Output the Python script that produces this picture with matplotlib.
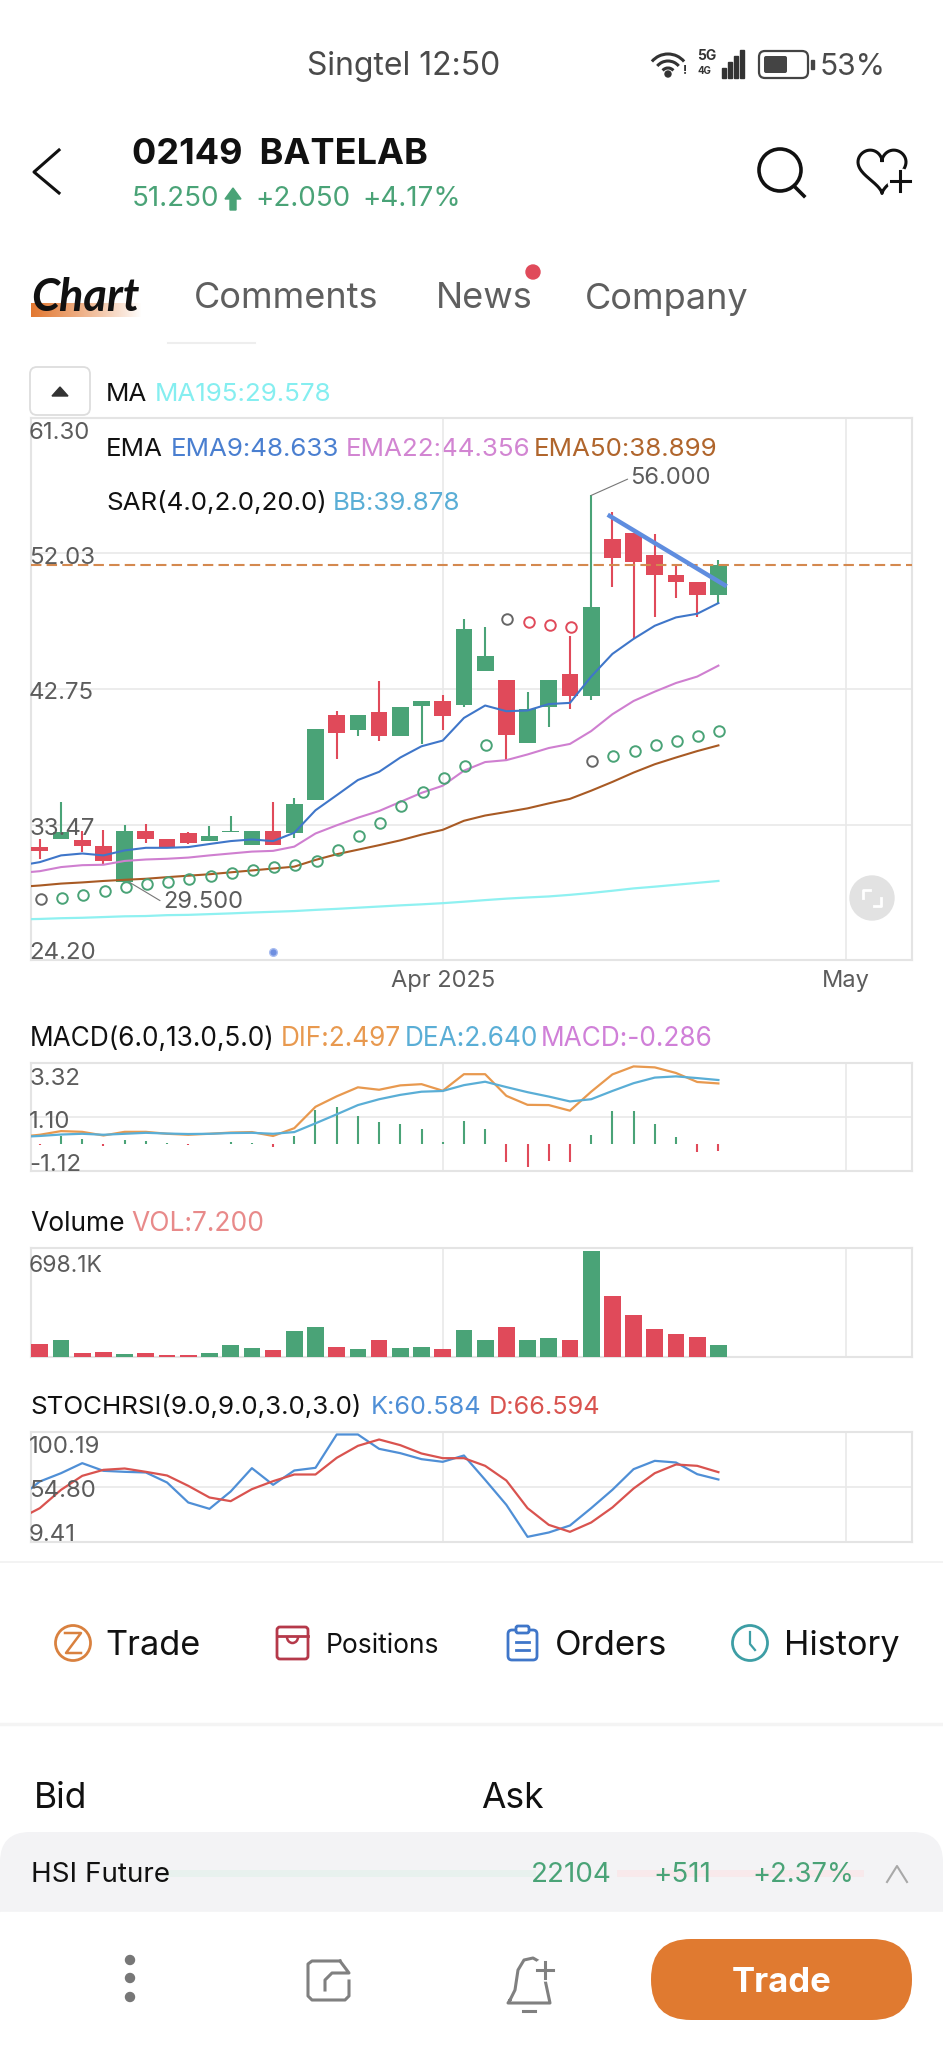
import numpy as np
import matplotlib
matplotlib.use('Agg')
import matplotlib.pyplot as plt
from matplotlib.patches import Circle, FancyBboxPatch, Rectangle, Polygon, Arc

plt.rcParams['font.family'] = ['Inter', 'DejaVu Sans']

W, H = 943, 2048
GREEN = '#4aa377'
RED = '#e04a5a'
GRID = '#e9e9e9'

# candles
opens = [31.93, 32.50, 32.39, 31.98, 29.56, 33.01, 32.50, 32.86, 32.34, 32.99, 32.06, 33.01, 32.91, 35.15, 40.97, 39.97, 41.18,
         39.56, 41.62, 41.93, 41.67, 44.01, 43.37, 39.07, 41.51, 43.81, 42.24, 53.00, 53.44, 51.90, 50.53, 50.04, 49.19]
closes = [31.65, 32.99, 32.03, 31.00, 33.01, 32.45, 31.88, 32.19, 32.68, 33.06, 33.01, 32.08, 34.89, 39.99, 39.71, 40.97, 39.53,
          41.51, 41.93, 40.87, 46.87, 45.02, 39.63, 41.41, 43.34, 42.26, 48.37, 51.72, 51.41, 50.58, 50.07, 49.19, 51.25]
highs = [32.47, 35.02, 33.04, 33.09, 33.42, 33.48, 32.50, 32.96, 33.35, 34.04, 33.01, 35.02, 35.30, 39.99, 41.26, 40.97, 43.27,
         41.51, 41.93, 42.31, 47.52, 47.00, 43.37, 42.57, 43.34, 46.36, 56.00, 54.86, 53.44, 53.39, 51.28, 50.04, 51.59]
lows = [31.11, 32.50, 31.62, 30.74, 29.50, 32.19, 31.88, 32.14, 32.34, 32.99, 32.06, 32.06, 32.52, 35.15, 37.98, 39.50, 39.22,
        39.56, 39.01, 39.94, 41.54, 44.01, 37.88, 39.07, 40.17, 41.41, 42.00, 49.73, 46.18, 47.67, 49.01, 47.65, 48.55]

# moving averages, first value sits left of the first candle
ema9 = [30.65, 30.90, 31.36, 31.49, 31.36, 31.70, 31.88, 31.88, 31.93, 32.14, 32.34, 32.45, 32.34, 32.91, 34.45, 35.48, 36.52, 37.08,
        38.06, 38.83, 39.22, 40.77, 41.62, 41.23, 41.28, 41.72, 41.80, 43.60, 45.15, 46.18, 47.08, 47.65, 47.90, 48.63]
ema22 = [30.15, 30.28, 30.56, 30.69, 30.72, 30.98, 31.08, 31.13, 31.21, 31.36, 31.49, 31.62, 31.67, 31.96, 32.86, 33.42, 33.94, 34.40,
         35.02, 35.64, 36.13, 37.16, 37.75, 37.88, 38.27, 38.71, 38.99, 39.87, 41.02, 41.93, 42.57, 43.16, 43.60, 44.35]
ema50 = [29.20, 29.30, 29.43, 29.51, 29.61, 29.69, 29.76, 29.87, 29.97, 30.07, 30.20, 30.33, 30.46, 30.59, 31.05, 31.44, 31.75, 32.06,
         32.39, 32.78, 33.11, 33.73, 34.09, 34.33, 34.58, 34.92, 35.23, 35.79, 36.39, 37.03, 37.60, 38.06, 38.50, 38.89]
ma195 = [26.98, 27.01, 27.06, 27.09, 27.14, 27.19, 27.21, 27.27, 27.29, 27.34, 27.39, 27.45, 27.50, 27.55, 27.63, 27.70, 27.78, 27.86,
         27.94, 28.01, 28.09, 28.19, 28.30, 28.40, 28.48, 28.55, 28.66, 28.79, 28.94, 29.10, 29.22, 29.35, 29.48, 29.61]

sar = [28.35, 28.43, 28.68, 28.94, 29.20, 29.43, 29.56, 29.76, 29.95, 30.18, 30.38, 30.56, 30.72, 31.00, 31.72, 32.68, 33.55,
       34.71, 35.72, 36.67, 37.47, 38.89, 47.52, 47.34, 47.16, 46.98, 37.80, 38.19, 38.53, 38.89, 39.22, 39.56, 39.89]
sar_colors = ['#666666'] + [GREEN] * 21 + ['#666666', RED, RED, RED, '#666666'] + [GREEN] * 6

# macd, lines have the extra left value as well
dif = [0.28, 0.37, 0.52, 0.49, 0.34, 0.49, 0.49, 0.41, 0.37, 0.41, 0.46, 0.48, 0.32, 0.64, 1.52, 1.95, 2.32, 2.22,
       2.40, 2.45, 2.18, 2.86, 2.86, 1.97, 1.60, 1.59, 1.36, 2.14, 2.85, 3.18, 3.14, 2.91, 2.54, 2.48]
dea = [0.28, 0.32, 0.38, 0.41, 0.37, 0.41, 0.45, 0.42, 0.40, 0.41, 0.44, 0.45, 0.41, 0.48, 0.84, 1.21, 1.59, 1.83,
       2.01, 2.14, 2.17, 2.41, 2.55, 2.33, 2.12, 1.94, 1.74, 1.83, 2.17, 2.49, 2.72, 2.77, 2.70, 2.62]
macd_hist = [-0.04, 0.31, 0.19, -0.11, 0.16, 0.11, 0.03, -0.07, 0.0, 0.07, 0.05, -0.15, 0.30, 1.37, 1.50, 1.15, 0.91,
             0.80, 0.61, 0.09, 0.92, 0.61, -0.76, -0.97, -0.69, -0.76, 0.38, 1.34, 1.34, 0.83, 0.27, -0.34, -0.28]

# volume in thousands
volume = [84, 110, 26, 31, 18, 24, 9, 9, 24, 77, 55, 46, 170, 194, 62, 48, 110, 53, 62, 48, 172, 106, 194, 108, 123, 108,
          698, 401, 273, 183, 150, 130, 77]
vol_colors = [RED, GREEN, RED, RED, GREEN, RED, RED, RED, GREEN, GREEN, GREEN, RED, GREEN, GREEN, RED, GREEN, RED, GREEN, GREEN,
              RED, GREEN, GREEN, RED, GREEN, GREEN, RED, GREEN, RED, RED, RED, RED, RED, GREEN]

stoch_k = [45.17, 58.93, 65.80, 74.06, 67.73, 66.91, 66.36, 58.10, 41.60, 36.37, 50.68, 69.93, 56.18, 68.01, 70.21, 97.72, 97.72, 85.89,
           82.31, 77.36, 75.16, 80.39, 60.30, 39.67, 13.26, 16.84, 22.61, 36.92, 52.05, 69.11, 75.98, 74.61, 64.98, 60.58]
stoch_d = [27.84, 36.92, 52.05, 63.60, 68.55, 69.66, 66.91, 63.88, 55.35, 45.72, 42.70, 52.60, 59.20, 64.70, 64.70, 78.46, 88.36, 93.59,
           88.91, 82.04, 78.18, 78.18, 71.86, 59.75, 36.92, 23.16, 17.39, 25.09, 37.47, 53.15, 65.80, 72.96, 71.86, 66.63]

month_ticks = [19, 38]
month_labels = ['Apr 2025', 'May']

idx = np.arange(len(closes))
idx_line = np.arange(-1, len(closes))
XLIM = (-0.44, 41.13)

fig = plt.figure(figsize=(W / 100, H / 100), dpi=100, facecolor='white')

# background axis in pixel coordinates for the app chrome
ui = fig.add_axes([0, 0, 1, 1], zorder=0)
ui.set_xlim(0, W)
ui.set_ylim(H, 0)
ui.axis('off')


def label(x, y, s, size=18.7, color='#111111', **kw):
    kw.setdefault('va', 'center')
    return ui.text(x, y + 2.5, s, fontsize=size, color=color, zorder=6, **kw)


def panel(top, bottom, yticks, ylabels, vas, ylim, shift=-3, tick_size=17.3):
    ax = fig.add_axes([30.5 / W, 1 - bottom / H, (912 - 30.5) / W, (bottom - top) / H], zorder=2)
    ax.patch.set_alpha(0)
    ax.set_xlim(*XLIM)
    ax.set_ylim(*ylim)
    ax.set_xticks(month_ticks)
    ax.set_xticklabels([])
    ax.set_yticks(yticks)
    ax.set_yticklabels([])
    ax.tick_params(axis='both', length=0, labelsize=17, labelcolor='#5c5c5c')
    # labels sit inside the plot area
    for v, s, va in zip(yticks, ylabels, vas):
        ax.annotate(s, xy=(0, v), xycoords=('axes fraction', 'data'), xytext=(-1, shift), textcoords='offset points',
                    fontsize=tick_size, color='#5c5c5c', va=va, ha='left', zorder=7)
    ax.grid(True, color=GRID, lw=1.2, zorder=0)
    ax.set_axisbelow(True)
    for s in ax.spines.values():
        s.set_color('#e4e4e4')
        s.set_linewidth(1.5)
    return ax


# main price panel
ax = panel(418, 960, [24.20, 33.47, 42.75, 52.03, 61.30], ['24.20', '33.47', '42.75', '52.03', '61.30'],
           ['bottom', 'center', 'center', 'center', 'top'], (24.20, 61.30))
ax.set_xticklabels(month_labels)
ax.tick_params(axis='x', pad=7)

candle_colors = [GREEN if c > o else RED for o, c in zip(opens, closes)]
ax.vlines(idx, lows, highs, colors=candle_colors, lw=1.5, zorder=3)
ax.bar(idx, np.array(closes) - np.array(opens), bottom=opens, width=0.79, color=candle_colors, zorder=3)
ax.axhline(51.25, color='#d4894f', lw=1.5, ls=(0, (5, 2.5)), zorder=4)
ax.plot(idx_line, ma195, color='#8ff1f1', lw=1.6, zorder=4)
ax.plot(idx_line, ema50, color='#a85a24', lw=1.5, zorder=4)
ax.plot(idx_line, ema22, color='#cf7fd0', lw=1.5, zorder=4)
ax.plot(idx_line, ema9, color='#3f76c9', lw=1.5, zorder=4)
for i, v, c in zip(idx, sar, sar_colors):
    ax.plot(i + 0.05, v, 'o', mfc='none', mec=c, ms=7.6, mew=1.4, zorder=5)

# hand drawn trend line and the small marker
ax.plot([26.78, 32.39], [54.68, 49.78], color='#5f8ddf', lw=3.2, solid_capstyle='butt', zorder=6)
ax.plot([11], [24.74], 'o', color='#6f8fe0', mec='#a9bdf0', ms=5.5, mew=1, zorder=5)
ax.annotate('56.000', xy=(26, 56.0), xytext=(27.85, 57.2), fontsize=17, color='#5c5c5c', va='center',
            arrowprops=dict(arrowstyle='-', color='#777777', lw=0.8, shrinkA=0, shrinkB=0, relpos=(0, 0.5)), zorder=6)
ax.annotate('29.500', xy=(4.25, 29.5), xytext=(5.8, 28.15), fontsize=17, color='#5c5c5c', va='center',
            arrowprops=dict(arrowstyle='-', color='#777777', lw=0.8, shrinkA=0, shrinkB=0, relpos=(0, 0.5)), zorder=6)

# macd panel
ax2 = panel(1063, 1171, [-1.12, 1.10, 3.32], ['-1.12', '1.10', '3.32'], ['bottom', 'center', 'top'], (-1.12, 3.32), shift=-3.5)
hist_colors = [GREEN if v >= 0 else RED for v in macd_hist]
ax2.vlines(idx, 0, macd_hist, colors=hist_colors, lw=1.5, zorder=3)
ax2.plot(idx_line, dif, color='#e8994f', lw=1.6, zorder=4)
ax2.plot(idx_line, dea, color='#5aaed6', lw=1.6, zorder=4)

# volume panel
ax3 = panel(1247.5, 1356.5, [698.1], ['698.1K'], ['top'], (0, 720), shift=-3, tick_size=16.5)
ax3.bar(idx, volume, width=0.79, color=vol_colors, zorder=3)
ax3.grid(False, axis='y')

# stochastic rsi panel
ax4 = panel(1431.5, 1541.5, [9.41, 54.80, 100.19], ['9.41', '54.80', '100.19'], ['bottom', 'center', 'top'], (9.41, 100.19), shift=-3)
ax4.plot(idx_line, stoch_k, color='#4f8fd6', lw=1.6, zorder=4)
ax4.plot(idx_line, stoch_d, color='#d9534f', lw=1.6, zorder=4)

# indicator legends
label(106, 392, 'MA')
label(155, 392, 'MA195:29.578', color='#85eef0')
label(106, 447, 'EMA')
label(171, 447, 'EMA9:48.633', color='#4a7fd0')
label(346, 447, 'EMA22:44.356', color='#d285d2')
label(534, 447, 'EMA50:38.899', color='#b0652c')
label(106, 501, 'SAR(4.0,2.0,20.0)')
label(333, 501, 'BB:39.878', color='#5aaed6')

label(30, 1036.5, 'MACD(6.0,13.0,5.0)', size=18.9)
label(281, 1036.5, 'DIF:2.497', size=18.9, color='#e8994f')
label(405, 1036.5, 'DEA:2.640', size=18.9, color='#5aaed6')
label(541, 1036.5, 'MACD:-0.286', size=18.9, color='#d080d8')
label(30, 1221.5, 'Volume', size=19)
label(131, 1221.5, 'VOL:7.200', size=19, color='#e88a8a')
label(30, 1405, 'STOCHRSI(9.0,9.0,3.0,3.0)')
label(371, 1405, 'K:60.584', size=18.2, color='#4f8fd6')
label(489, 1405, 'D:66.594', size=18.2, color='#d9534f')

# collapse button
ui.add_patch(FancyBboxPatch((30, 367), 60, 48, boxstyle='round,pad=0,rounding_size=7', fc='white', ec='#dddddd', lw=1.3))
ui.add_patch(Polygon([[52, 396], [68, 396], [60, 387]], color='#333333'))

# fullscreen button
ui.add_patch(Circle((872, 898), 22, color='#e2e2e2', zorder=5))
ui.plot([863, 863, 870], [898, 890, 890], color='white', lw=2, zorder=6)
ui.plot([881, 881, 874], [898, 906, 906], color='white', lw=2, zorder=6)

# status bar
label(307, 64.5, 'Singtel 12:50', size=23, color='#4a4a4a')
for r in [7, 14, 21]:
    ui.add_patch(Arc((668, 75), r * 2, r * 2, theta1=220, theta2=320, color='#333333', lw=2.2))
ui.add_patch(Circle((668, 74), 3, color='#333333'))
label(683, 68, '!', size=9, color='#333333', weight='bold')
label(697, 54, '5G', size=10, color='#333333', weight='bold')
label(698, 68, '4G', size=7, color='#333333', weight='bold')
for i, hgt in enumerate([10, 16, 22, 28]):
    ui.add_patch(Rectangle((722 + i * 6, 78 - hgt), 3.5, hgt, color='#333333'))
ui.add_patch(FancyBboxPatch((759, 51), 49, 27, boxstyle='round,pad=0,rounding_size=6', fc='white', ec='#444444', lw=1.6))
ui.add_patch(FancyBboxPatch((764, 56), 23, 17, boxstyle='round,pad=0,rounding_size=2', fc='#444444', ec='none'))
ui.add_patch(Rectangle((811, 60), 2.5, 9, color='#444444'))
label(820, 64.5, '53%', size=21.5, color='#4a4a4a')

# header
ui.plot([59, 34, 59], [150, 172, 193], color='#111111', lw=2.2)
label(132, 152, '02149  BATELAB', size=26, color='#111111', weight='bold')
label(132, 196, '51.250', size=20, color=GREEN)
ui.add_patch(Polygon([[233, 188], [225, 199], [230, 199], [230, 210], [236, 210], [236, 199], [241, 199]], color=GREEN))
label(255, 196, '+2.050', size=20, color=GREEN)
label(362, 196, '+4.17%', size=20, color=GREEN)
ui.add_patch(Circle((780, 170), 21, fc='none', ec='#111111', lw=2.6))
ui.plot([794, 804], [186, 196], color='#111111', lw=2.6)
t = np.linspace(0, 2 * np.pi, 200)
hx, hy = 16 * np.sin(t) ** 3, 13 * np.cos(t) - 5 * np.cos(2 * t) - 2 * np.cos(3 * t) - np.cos(4 * t)
ui.plot(882 + hx * 1.5, 168 - hy * 1.5, color='#111111', lw=2.2)
ui.add_patch(Circle((900, 181), 12, color='white', zorder=2))
ui.plot([891, 910], [181, 181], color='#111111', lw=2.2, zorder=3)
ui.plot([900, 900], [171, 191], color='#111111', lw=2.2, zorder=3)

# tabs
grad = np.ones((2, 100, 4))
grad[:, :, 0], grad[:, :, 1], grad[:, :, 2] = 0.89, 0.47, 0.19
grad[:, :, 3] = np.linspace(1, 0, 100) ** 0.9
ui.imshow(grad, extent=(31, 142, 317, 303), aspect='auto', zorder=1)
ui.set_xlim(0, W)
ui.set_ylim(H, 0)
label(31, 295.5, 'Chart', size=32.5, color='#111111', weight='bold', style='italic', family=['Lato', 'DejaVu Sans'])
label(194, 296.5, 'Comments', size=26, color='#5f5f5f')
label(436, 296.5, 'News', size=26, color='#5f5f5f')
label(585, 296.5, 'Company', size=26, color='#5f5f5f')
ui.add_patch(Circle((533, 272), 7, color=RED, zorder=7))
ui.plot([168, 255], [343, 343], color='#eeeeee', lw=1.5)

# trade row
ui.plot([0, W], [1562, 1562], color='#f1f1f1', lw=1.2)
ui.add_patch(Circle((73, 1643), 17.5, fc='none', ec='#d9813f', lw=2))
ui.plot([65, 81, 66, 81], [1633, 1633, 1653, 1653], color='#d9813f', lw=1.8)
label(105, 1643.5, 'Trade', size=24.7)
ui.add_patch(FancyBboxPatch((277, 1627), 31, 32, boxstyle='round,pad=0,rounding_size=3', fc='none', ec='#b5394a', lw=2))
ui.plot([277, 308], [1636, 1636], color='#b5394a', lw=2)
ui.add_patch(Arc((292.5, 1637), 11, 12, theta1=0, theta2=180, color='#b5394a', lw=1.8))
label(326, 1643.5, 'Positions', size=19)
ui.add_patch(FancyBboxPatch((508, 1630), 29, 30, boxstyle='round,pad=0,rounding_size=4', fc='none', ec='#3f76c9', lw=2))
ui.add_patch(FancyBboxPatch((516, 1626), 13, 7, boxstyle='round,pad=0,rounding_size=2', fc='white', ec='#3f76c9', lw=2))
ui.plot([516, 529], [1642, 1642], color='#3f76c9', lw=2)
ui.plot([516, 529], [1650, 1650], color='#3f76c9', lw=2)
label(555, 1643.5, 'Orders', size=25)
ui.add_patch(Circle((750, 1643), 17.5, fc='none', ec='#3d9ea5', lw=2))
ui.plot([750, 750, 755], [1632, 1644, 1650], color='#3d9ea5', lw=1.6)
label(784, 1643.5, 'History', size=24.6)

# order book header
ui.plot([0, W], [1724, 1724], color='#f4f4f4', lw=2.5)
label(34, 1795.5, 'Bid', size=25.5)
label(481, 1795.5, 'Ask', size=25.5)

# ticker strip
ui.add_patch(FancyBboxPatch((0, 1832), W, 120, boxstyle='round,pad=0,rounding_size=30', fc='#f3f3f5', ec='none', zorder=1))
ui.add_patch(Rectangle((0, 1912), W, 60, color='white', zorder=1.5))
ui.plot([168, 532], [1873, 1873], color='#e8f1ee', lw=5, zorder=2)
ui.plot([620, 860], [1873, 1873], color='#f8e9eb', lw=5, zorder=2)
label(31, 1872.5, 'HSI Future', size=20)
label(531, 1872.5, '22104', size=20, color=GREEN)
label(653, 1872.5, '+511', size=20, color=GREEN)
label(752, 1872.5, '+2.37%', size=19.7, color=GREEN)
ui.plot([887, 897, 907], [1882, 1866, 1882], color='#a8a8a8', lw=1.5, zorder=3)

# bottom bar
for y in [1960, 1978, 1997]:
    ui.add_patch(Circle((130, y), 4.5, color='#777777', zorder=3))
ui.plot([340, 312, 308, 308, 312, 345, 349, 349], [1961, 1961, 1964, 1996, 2000, 2000, 1996, 1981],
        color='#808080', lw=2.2, zorder=3)
ui.plot([325, 325, 332, 349, 340], [1990, 1980, 1973, 1973, 1961], color='#808080', lw=2.2, zorder=3)
ui.plot([510, 515, 518, 524, 533, 540, 544, 550, 508, 510], [2000, 1990, 1970, 1960, 1958, 1962, 1975, 2003, 2003, 2000],
        color='#808080', lw=2.2, zorder=3)
ui.plot([523, 535], [2011, 2011], color='#808080', lw=2.2, zorder=3)
ui.add_patch(Circle((545, 1970), 11, color='white', zorder=3))
ui.plot([537, 553], [1970, 1970], color='#808080', lw=2.2, zorder=4)
ui.plot([545, 545], [1962, 1978], color='#808080', lw=2.2, zorder=4)
ui.add_patch(FancyBboxPatch((651, 1939), 261, 81, boxstyle='round,pad=0,rounding_size=40', fc='#e07a30', ec='none', zorder=3))
label(782, 1980, 'Trade', size=25, color='white', weight='bold', ha='center')

fig.savefig('out.png', dpi=100)
